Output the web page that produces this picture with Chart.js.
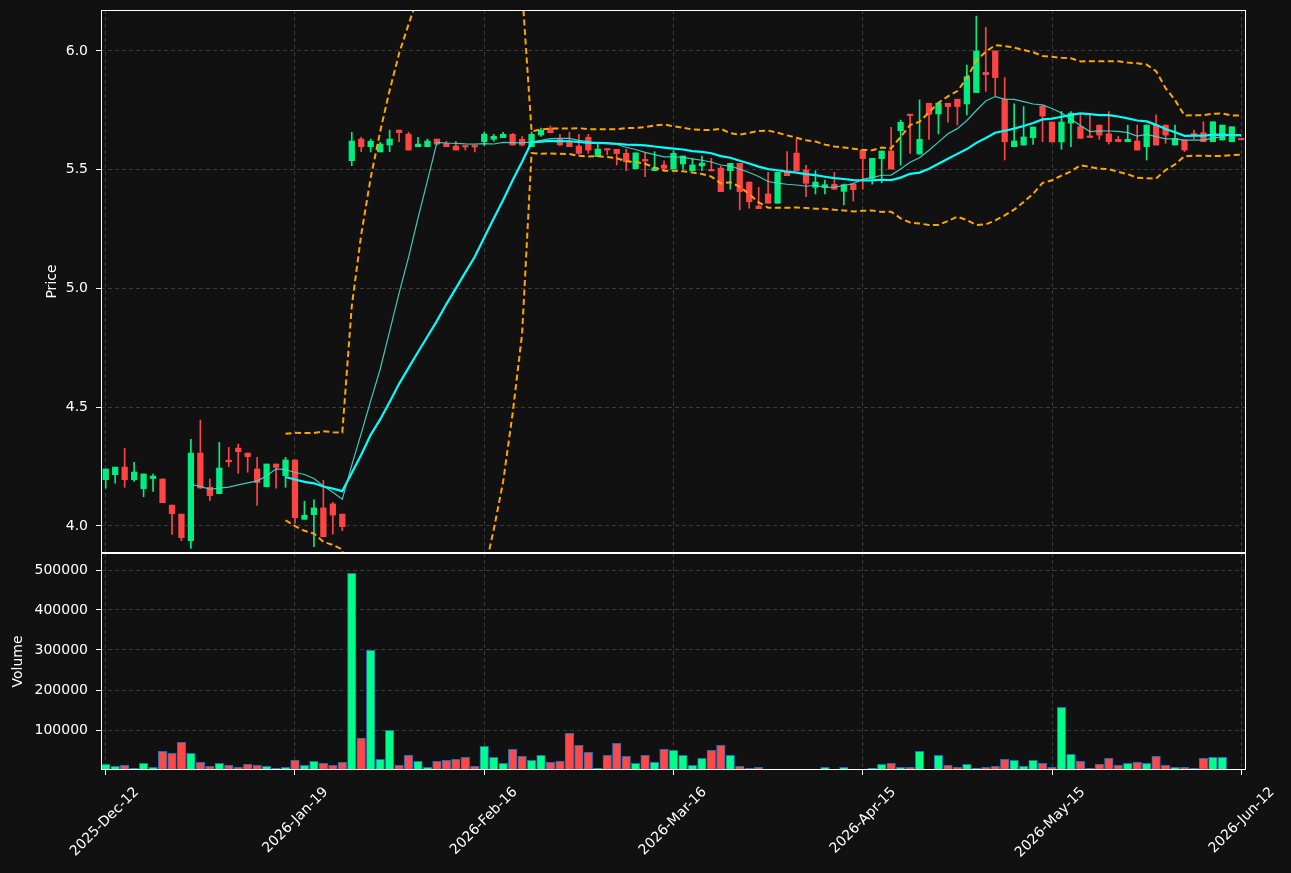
<!DOCTYPE html>
<html>
<head>
<meta charset="utf-8">
<script src="https://cdn.jsdelivr.net/npm/chart.js@4.4.1/dist/chart.umd.min.js"></script>
<style>
  html, body { margin: 0; padding: 0; background: #111111; }
  #wrap { position: relative; width: 1291px; height: 873px; }
  canvas { position: absolute; left: 0; }
  #price { top: 0; }
  #vol { top: 553px; }
</style>
</head>
<body>
<div id="wrap">
  <canvas id="price" width="1291" height="553"></canvas>
  <canvas id="vol" width="1291" height="320"></canvas>
</div>
<script>
// daily OHLC (index 0 = 2025-Dec-12)
const opens = [4.195,4.216,4.248,4.195,4.157,4.200,4.198,4.088,4.050,3.938,
  4.307,4.163,4.136,4.277,4.328,4.307,4.240,4.165,4.261,4.212,
  4.278,4.028,4.048,4.076,4.093,4.050,5.538,5.629,5.597,5.575,
  5.604,5.667,5.650,5.597,5.597,5.629,5.611,5.600,5.600,5.600,
  5.618,5.628,5.635,5.649,5.628,5.597,5.646,5.675,5.628,5.620,
  5.600,5.637,5.555,5.587,5.586,5.569,5.504,5.540,5.496,5.520,
  5.503,5.524,5.495,5.516,5.499,5.507,5.496,5.527,5.448,5.347,
  5.398,5.359,5.493,5.570,5.499,5.426,5.426,5.439,5.409,5.439,
  5.583,5.464,5.547,5.579,5.664,5.732,5.566,5.780,5.735,5.780,
  5.797,5.777,5.825,5.910,6.000,5.797,5.597,5.604,5.635,5.768,
  5.701,5.617,5.696,5.681,5.640,5.688,5.651,5.628,5.618,5.621,
  5.597,5.688,5.688,5.604,5.625,5.649,5.656,5.618,5.625,5.618,
  5.630];
const highs = [4.240,4.248,4.327,4.268,4.219,4.219,4.198,4.088,4.050,4.365,
  4.446,4.198,4.352,4.331,4.345,4.307,4.289,4.261,4.261,4.289,
  4.278,4.104,4.110,4.192,4.100,4.050,5.658,5.637,5.629,5.615,
  5.667,5.667,5.658,5.637,5.629,5.629,5.620,5.620,5.600,5.600,
  5.658,5.649,5.658,5.653,5.640,5.659,5.675,5.684,5.649,5.658,
  5.649,5.649,5.607,5.587,5.586,5.586,5.571,5.569,5.576,5.538,
  5.580,5.558,5.548,5.558,5.548,5.515,5.527,5.527,5.448,5.426,
  5.489,5.489,5.576,5.628,5.519,5.496,5.457,5.489,5.440,5.439,
  5.583,5.548,5.579,5.679,5.709,5.732,5.794,5.780,5.780,5.780,
  5.797,5.941,6.147,6.100,6.000,5.888,5.778,5.766,5.680,5.768,
  5.701,5.745,5.745,5.730,5.736,5.688,5.745,5.640,5.688,5.688,
  5.688,5.731,5.688,5.688,5.625,5.667,5.702,5.702,5.688,5.681,
  5.630];
const lows = [4.159,4.180,4.163,4.188,4.123,4.146,4.098,3.965,3.938,3.906,
  4.158,4.107,4.136,4.250,4.222,4.226,4.087,4.165,4.159,4.163,
  4.011,4.028,3.913,3.955,3.966,3.980,5.517,5.576,5.575,5.575,
  5.576,5.618,5.583,5.597,5.597,5.604,5.597,5.583,5.583,5.575,
  5.602,5.620,5.635,5.604,5.600,5.597,5.640,5.656,5.600,5.597,
  5.565,5.569,5.555,5.563,5.520,5.496,5.504,5.471,5.496,5.496,
  5.503,5.502,5.495,5.496,5.495,5.408,5.418,5.331,5.338,5.336,
  5.359,5.359,5.475,5.496,5.387,5.398,5.398,5.418,5.352,5.368,
  5.418,5.439,5.445,5.503,5.519,5.569,5.566,5.628,5.651,5.700,
  5.688,5.731,5.825,5.830,5.810,5.541,5.597,5.604,5.607,5.618,
  5.617,5.586,5.597,5.632,5.636,5.628,5.608,5.618,5.618,5.583,
  5.541,5.604,5.611,5.604,5.576,5.630,5.618,5.618,5.625,5.618,
  5.626];
const closes = [4.240,4.248,4.195,4.227,4.219,4.210,4.098,4.052,3.951,4.307,
  4.160,4.128,4.244,4.270,4.313,4.292,4.183,4.261,4.247,4.278,
  4.035,4.045,4.076,3.955,4.046,3.997,5.621,5.597,5.620,5.608,
  5.629,5.656,5.583,5.608,5.621,5.608,5.597,5.583,5.596,5.596,
  5.650,5.641,5.649,5.604,5.604,5.649,5.666,5.656,5.605,5.597,
  5.569,5.583,5.587,5.583,5.568,5.534,5.571,5.537,5.508,5.506,
  5.569,5.558,5.520,5.528,5.495,5.408,5.527,5.408,5.365,5.336,
  5.359,5.489,5.475,5.496,5.443,5.448,5.437,5.418,5.437,5.416,
  5.547,5.548,5.579,5.503,5.700,5.728,5.628,5.733,5.780,5.766,
  5.766,5.892,6.000,5.900,5.888,5.618,5.621,5.638,5.680,5.726,
  5.617,5.701,5.738,5.632,5.636,5.646,5.618,5.618,5.628,5.583,
  5.688,5.604,5.646,5.632,5.583,5.646,5.618,5.702,5.688,5.681,
  5.626];
const volumes = [14200,9200,11700,4200,16700,6700,46700,41700,69200,41700,
  19200,9200,16700,11700,6700,14200,11700,9200,4200,6700,
  24200,11700,21700,16700,11700,19200,491700,80000,299200,26700,
  99200,11700,36700,21700,6700,21700,24200,26700,31700,9200,
  59200,31700,16700,51700,34200,24200,36700,19200,21700,91700,
  61700,44200,4200,36700,66700,34200,16700,36700,19200,51700,
  49200,36700,11700,29200,49200,61700,36700,9200,4200,6700,
  1500,1200,1200,1000,0,1200,6700,1200,6700,1200,
  1200,4200,14200,16700,6700,6700,46700,0,36700,11700,
  6700,14200,4200,6700,9200,26700,24200,9200,24200,16700,
  6700,156700,39200,21700,4200,14200,29200,11700,16700,19200,
  16700,34200,11700,6700,6700,4200,29200,31700,31700,1500,
  0];

const tickIdx = [0, 20, 40, 60, 80, 100, 120];
const tickDates = ['2025-Dec-12', '2026-Jan-19', '2026-Feb-16', '2026-Mar-16', '2026-Apr-15', '2026-May-15', '2026-Jun-12'];
const priceTicks = [4.0, 4.5, 5.0, 5.5, 6.0];
const volTicks = [100000, 200000, 300000, 400000, 500000];

const UP = '#00ee80', DOWN = '#ff4444';
const VUP = '#00ff88', VDOWN = '#ff4848';
const GRID = '#3a3a3a';

// moving averages / bollinger from closes
function sma(arr, n) {
  const out = [];
  for (let i = n - 1; i < arr.length; i++) {
    let s = 0;
    for (let k = i - n + 1; k <= i; k++) s += arr[k];
    out.push({x: i, y: s / n});
  }
  return out;
}
function band(arr, n, mult) {
  const m = sma(arr, n);
  return m.map(p => {
    let s = 0;
    for (let k = p.x - n + 1; k <= p.x; k++) s += (arr[k] - p.y) ** 2;
    const sd = Math.sqrt(s / (n - 1));
    return {x: p.x, y: p.y + mult * sd};
  });
}

const isUp = closes.map((c, i) => c >= opens[i]);

Chart.defaults.font.family = 'DejaVu Sans';
Chart.defaults.font.size = 14;
Chart.defaults.color = '#ffffff';

// no extra room for half-labels, the plot boxes are fixed
function noPad(s) {
  s.paddingTop = 0; s.paddingBottom = 0; s.paddingLeft = 0; s.paddingRight = 0;
}

const frame = {
  id: 'frame',
  afterDraw(chart) {
    const {ctx, chartArea: a} = chart;
    ctx.save();
    ctx.strokeStyle = '#ffffff';
    ctx.lineWidth = 1;
    ctx.strokeRect(Math.round(a.left) + 0.5, Math.round(a.top) + 0.5,
      Math.round(a.right - a.left) - 1, Math.round(a.bottom - a.top) - 1);
    ctx.restore();
  }
};

const xBase = {
  type: 'linear', min: -0.5, max: 120.5, offset: false,
  afterBuildTicks: s => { s.ticks = tickIdx.map(v => ({value: v})); },
  border: {display: false, dash: [4, 3]},
};

new Chart(document.getElementById('price'), {
  type: 'bar',
  data: {
    datasets: [
      {
        type: 'line', label: 'MA10', order: 0,
        data: sma(closes, 10),
        borderColor: 'rgba(72,220,205,0.9)', borderWidth: 1.2,
        pointRadius: 0, tension: 0
      },
      {
        type: 'line', label: 'MA20', order: 0,
        data: sma(closes, 20),
        borderColor: '#00ffff', borderWidth: 2.2,
        pointRadius: 0, tension: 0
      },
      {
        type: 'line', label: 'BB upper', order: 0,
        data: band(closes, 20, 2),
        borderColor: '#ffa500', borderWidth: 2, borderDash: [6, 3.5],
        pointRadius: 0, tension: 0
      },
      {
        type: 'line', label: 'BB lower', order: 0,
        data: band(closes, 20, -2),
        borderColor: '#ffa500', borderWidth: 2, borderDash: [6, 3.5],
        pointRadius: 0, tension: 0
      },
      {
        label: 'body', order: 1, grouped: false,
        data: closes.map((c, i) => ({x: i, y: [opens[i], c]})),
        backgroundColor: isUp.map(u => u ? UP : DOWN),
        barThickness: 5.6, minBarLength: 1.5, borderWidth: 0
      },
      {
        label: 'wick', order: 2, grouped: false,
        data: closes.map((c, i) => ({x: i, y: [lows[i], highs[i]]})),
        backgroundColor: isUp.map(u => u ? UP : DOWN),
        barThickness: 1, borderWidth: 0
      }
    ]
  },
  options: {
    responsive: false,
    animation: false,
    layout: {padding: {left: 0, right: 45, top: 10, bottom: 0}},
    plugins: {legend: {display: false}, tooltip: {enabled: false}},
    scales: {
      x: Object.assign({}, xBase, {
        ticks: {display: false},
        grid: {color: GRID, drawTicks: false, offset: false},
        afterFit: s => { s.height = 0; noPad(s); }
      }),
      y: {
        min: 3.8863, max: 6.1726, beginAtZero: false,
        afterBuildTicks: s => { s.ticks = priceTicks.map(v => ({value: v})); },
        ticks: {padding: 8, callback: v => v.toFixed(1)},
        grid: {color: GRID, tickColor: '#ffffff', tickLength: 5, tickBorderDash: []},
        border: {display: false, dash: [4, 3]},
        title: {display: true, text: 'Price', padding: {top: 43.6, bottom: 0}},
        afterFit: s => { s.width = 101; noPad(s); }
      }
    }
  },
  plugins: [frame]
});

new Chart(document.getElementById('vol'), {
  type: 'bar',
  data: {
    datasets: [{
      label: 'Volume', grouped: false,
      data: volumes.map((v, i) => ({x: i, y: v})),
      backgroundColor: isUp.map(u => u ? VUP : VDOWN),
      borderColor: '#1f6fb4', borderWidth: 1,
      barThickness: 8.6
    }]
  },
  options: {
    responsive: false,
    animation: false,
    layout: {padding: {left: 0, right: 45, top: 0, bottom: 0}},
    plugins: {legend: {display: false}, tooltip: {enabled: false}},
    scales: {
      x: Object.assign({}, xBase, {
        ticks: {
          autoSkip: false, minRotation: 45, maxRotation: 45,
          labelOffset: 31, padding: 9,
          callback: v => tickDates[tickIdx.indexOf(v)]
        },
        grid: {color: GRID, tickColor: '#ffffff', tickLength: 5, tickBorderDash: [], offset: false},
        afterFit: s => { s.height = 103; noPad(s); }
      }),
      y: {
        min: 0, max: 542500,
        afterBuildTicks: s => { s.ticks = volTicks.map(v => ({value: v})); },
        ticks: {padding: 8, callback: v => String(v)},
        grid: {color: GRID, tickColor: '#ffffff', tickLength: 5, tickBorderDash: []},
        border: {display: false, dash: [4, 3]},
        title: {display: true, text: 'Volume', padding: {top: 9.6, bottom: 0}},
        afterFit: s => { s.width = 101; noPad(s); }
      }
    }
  },
  plugins: [frame]
});
</script>
</body>
</html>
